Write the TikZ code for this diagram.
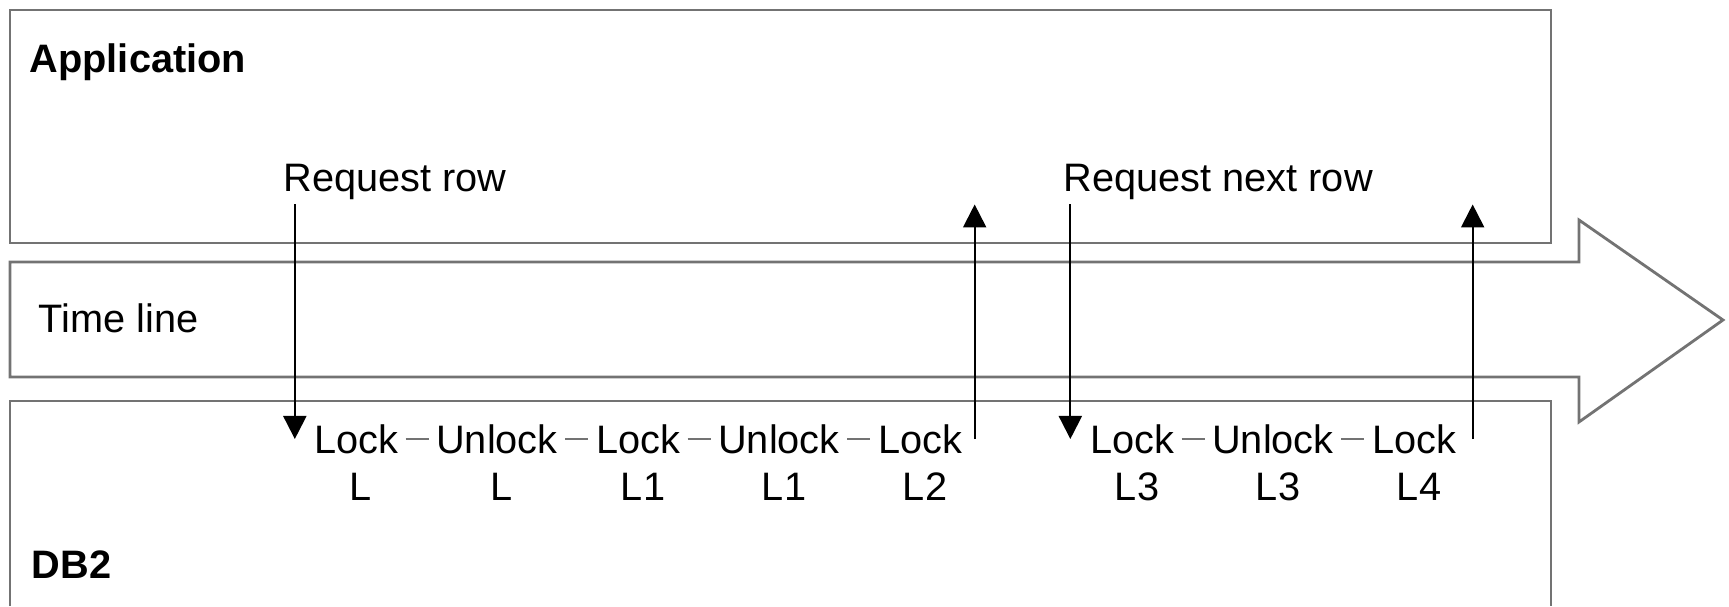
\documentclass[tikz,border=0pt]{standalone}
\usepackage{fontspec}
\setmainfont{Liberation Sans}
\usetikzlibrary{arrows.meta}

\begin{document}
\begin{tikzpicture}[node distance={14.1mm}, >={Triangle[width=2.3mm,length=2.3mm]},
  main/.style = {inner sep=1pt, font=\fontsize{11.3}{13.6}\selectfont},
  title/.style = {main, font=\fontsize{11.3}{13.6}\selectfont\bfseries},
  tag/.style = {main, node distance={4.8mm}, xshift=0.5mm},
  box/.style = {draw=black!55, line width=0.8pt},
  flow/.style = {->, line width=0.6pt},
  link/.style = {draw=black!55, line width=0.6pt, shorten <=0.35mm, shorten >=0.35mm}]
\useasboundingbox (0,0) rectangle (17.29,6.06);
\draw[box] (0.10,3.63) rectangle (15.51,5.96);
\draw[box] (0.10,3.44) -- (15.79,3.44) -- (15.79,3.86) -- (17.23,2.86) -- (15.79,1.84) -- (15.79,2.29) -- (0.10,2.29) -- cycle;
\draw[box] (0.10,0) -- (0.10,2.05) -- (15.51,2.05) -- (15.51,0);
\node[title, anchor=base west] (app) at (0.255,5.33) {Application};
\node[main, anchor=base west] (req1) at (2.795,4.14) {Request row};
\node[main, anchor=base west] (req2) at (10.595,4.14) {Request next row};
\node[main, anchor=base west] (time) at (0.345,2.73) {Time line};
\node[title, anchor=base west] (db) at (0.275,0.28) {DB2};
\node[main] (s1) at (3.56,1.67) {Lock};
\node[main] (s2) [right of=s1] {Unlock};
\node[main] (s3) [right of=s2] {Lock};
\node[main] (s4) [right of=s3] {Unlock};
\node[main] (s5) [right of=s4] {Lock};
\node[main] (s6) [right of=s5, xshift=7.1mm] {Lock};
\node[main] (s7) [right of=s6] {Unlock};
\node[main] (s8) [right of=s7] {Lock};
\node[tag] (t1) [below of=s1] {L};
\node[tag] (t2) [below of=s2] {L};
\node[tag] (t3) [below of=s3] {L1};
\node[tag] (t4) [below of=s4] {L1};
\node[tag] (t5) [below of=s5] {L2};
\node[tag] (t6) [below of=s6] {L3};
\node[tag] (t7) [below of=s7] {L3};
\node[tag] (t8) [below of=s8] {L4};
\draw[link] (s1) -- (s2);
\draw[link] (s2) -- (s3);
\draw[link] (s3) -- (s4);
\draw[link] (s4) -- (s5);
\draw[link] (s6) -- (s7);
\draw[link] (s7) -- (s8);
\draw[flow] ([xshift=-1.5mm]s1.west |- req1.south) -- ([xshift=-1.5mm]s1.west);
\draw[flow] ([xshift=0.85mm]s5.east) -- ([xshift=0.85mm]s5.east |- req1.south);
\draw[flow] ([xshift=-1.55mm]s6.west |- req2.south) -- ([xshift=-1.55mm]s6.west);
\draw[flow] ([xshift=1.25mm]s8.east) -- ([xshift=1.25mm]s8.east |- req2.south);
\end{tikzpicture}
\end{document}
